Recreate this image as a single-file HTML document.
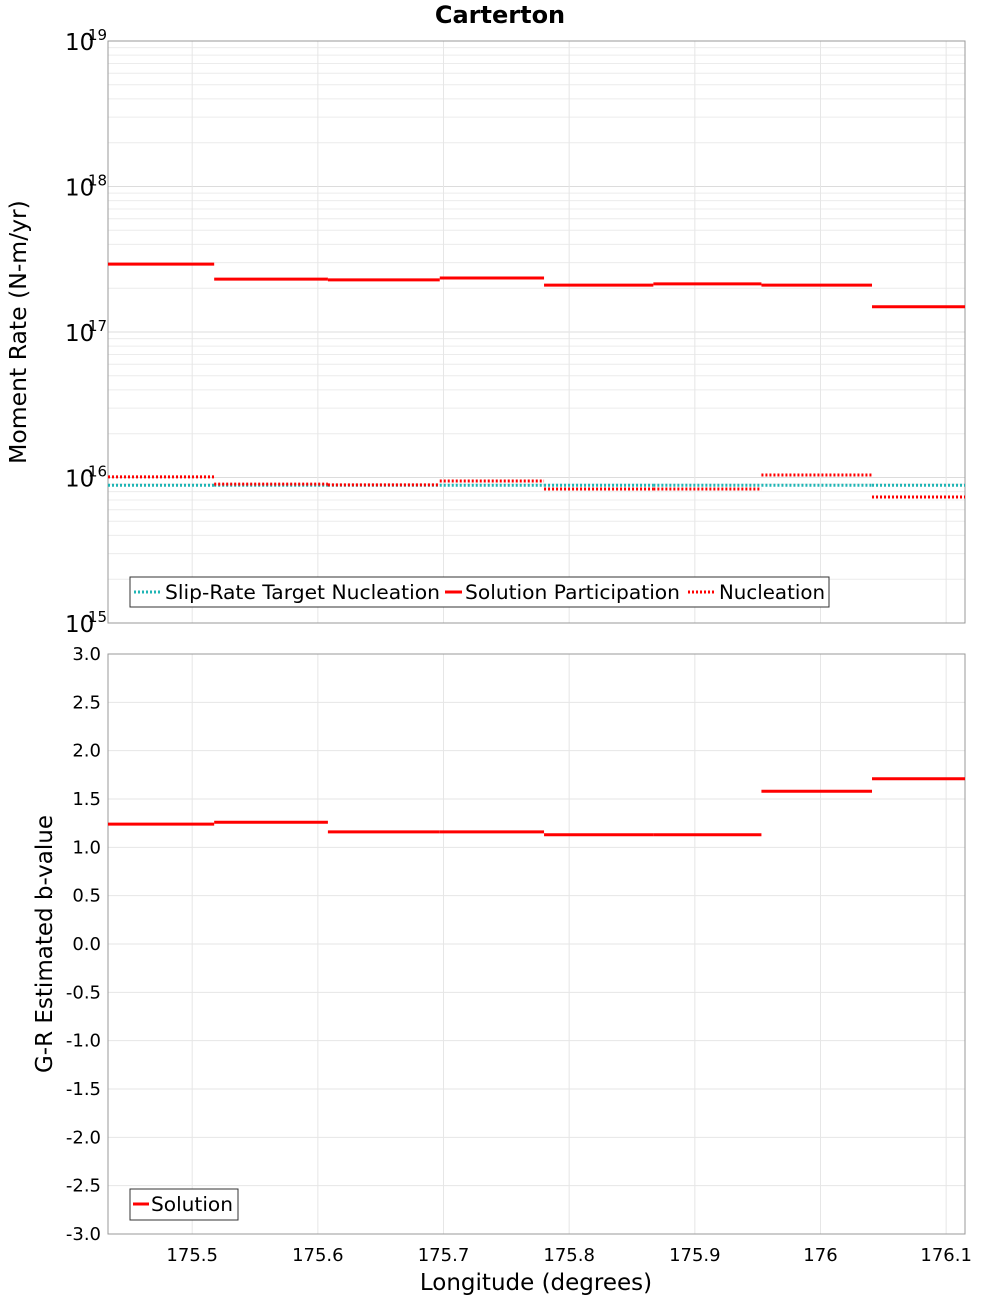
<!DOCTYPE html>
<html><head><meta charset="utf-8"><style>
body{margin:0;background:#fff;}
svg{display:block;font-family:"DejaVu Sans","Liberation Sans",sans-serif;}
</style></head><body>
<svg id="c" width="1000" height="1300"></svg>
<script>
const edges=[175.433,175.5175,175.608,175.697,175.780,175.867,175.953,176.041,176.115];
const participation=[2.93e17,2.31e17,2.28e17,2.35e17,2.10e17,2.14e17,2.10e17,1.49e17];
const nucleation=[1.01e16,9.0e15,8.9e15,9.46e15,8.33e15,8.33e15,1.04e16,7.35e15];
const target=[8.85e15,8.85e15,8.85e15,8.85e15,8.85e15,8.85e15,8.85e15,8.85e15];
const bvalues=[1.24,1.26,1.16,1.16,1.13,1.13,1.58,1.71];
const xTicks=[175.5,175.6,175.7,175.8,175.9,176,176.1];
const xTickLabels=["175.5","175.6","175.7","175.8","175.9","176","176.1"];
const yTopExp=[15,16,17,18,19];
const yBotTicks=[-3,-2.5,-2,-1.5,-1,-0.5,0,0.5,1,1.5,2,2.5,3];

const NS="http://www.w3.org/2000/svg";
const svg=document.getElementById('c');
const L=108,R=965,T1=41,B1=623,T2=654,B2=1234;
const xs=v=>L+(v-175.433)/(176.115-175.433)*(R-L);
const ylog=v=>T1+(19-Math.log10(v))/4*(B1-T1);
const yb=v=>T2+(3-v)/6*(B2-T2);
function el(tag,attrs,parent){const e=document.createElementNS(NS,tag);for(const k in attrs)e.setAttribute(k,attrs[k]);(parent||svg).appendChild(e);return e;}
function txt(s,attrs,parent){const e=el('text',attrs,parent);e.textContent=s;return e;}

const g1=el('g',{});
const g2=el('g',{});
for(let e=15;e<19;e++){for(let m=1;m<10;m++){const y=ylog(m*Math.pow(10,e));el('line',{x1:L,x2:R,y1:y,y2:y,stroke:m==1?'#dcdcdc':'#ececec','stroke-width':1},g1);}}
xTicks.forEach(t=>{const x=xs(t);el('line',{x1:x,x2:x,y1:T1,y2:B1,stroke:'#e6e6e6'},g1);el('line',{x1:x,x2:x,y1:T2,y2:B2,stroke:'#e6e6e6'},g2);});
yBotTicks.forEach(t=>{const y=yb(t);el('line',{x1:L,x2:R,y1:y,y2:y,stroke:'#e6e6e6'},g2);});
el('rect',{x:L,y:T1,width:R-L,height:B1-T1,fill:'none',stroke:'#999'},g1);
el('rect',{x:L,y:T2,width:R-L,height:B2-T2,fill:'none',stroke:'#999'},g2);

function steps(arr,yf,g,name,stroke,dash){
  arr.forEach((v,i)=>{const l=el('line',{x1:xs(edges[i]),x2:xs(edges[i+1]),y1:yf(v),y2:yf(v),stroke:stroke,'stroke-width':3},g);
  if(dash)l.setAttribute('stroke-dasharray',dash);
  
  });
}
steps(target,ylog,g1,'target-nucleation-segment','#1fb5b5','2,2');
steps(participation,ylog,g1,'participation-segment','#ff0000');
steps(nucleation,ylog,g1,'nucleation-segment','#ff0000','2,2');
steps(bvalues,yb,g2,'b-value-segment','#ff0000');

yTopExp.forEach(e=>{const y=ylog(Math.pow(10,e));
 const t=txt('10',{x:65,y:y+9,'font-size':23,fill:'#000'},g1);
 txt(String(e),{x:88,y:y-1,'font-size':15,fill:'#000'},g1);});
yBotTicks.forEach(t=>{const y=yb(t);const s=txt(t.toFixed(1),{x:101,y:y+6,'font-size':18,'text-anchor':'end',fill:'#000'},g2);});
xTicks.forEach((t,i)=>{const s=txt(xTickLabels[i],{x:xs(t),y:1261,'font-size':18,'text-anchor':'middle',fill:'#000'});});

const tt=txt('Carterton',{x:500,y:23,'font-size':24,'font-weight':'bold','text-anchor':'middle'});
const yt1=txt('Moment Rate (N-m/yr)',{x:0,y:0,'font-size':23.5,'text-anchor':'middle',transform:'translate(26,332) rotate(-90)'});
const yt2=txt('G-R Estimated b-value',{x:0,y:0,'font-size':23,'text-anchor':'middle',transform:'translate(52,944) rotate(-90)'});
const xt=txt('Longitude (degrees)',{x:536,y:1290,'font-size':23,'text-anchor':'middle'});

const lg1=el('g',{});
el('rect',{x:130,y:577,width:699,height:30,fill:'#fff',stroke:'#333'},lg1);
el('line',{x1:134,x2:160,y1:592,y2:592,stroke:'#1fb5b5','stroke-width':3,'stroke-dasharray':'2,2'},lg1);
txt('Slip-Rate Target Nucleation',{x:165,y:599,'font-size':19.5,textLength:275,lengthAdjust:'spacingAndGlyphs'},lg1);
el('line',{x1:445,x2:462,y1:592,y2:592,stroke:'#ff0000','stroke-width':3},lg1);
txt('Solution Participation',{x:465,y:599,'font-size':19.5,textLength:215,lengthAdjust:'spacingAndGlyphs'},lg1);
el('line',{x1:688,x2:716,y1:592,y2:592,stroke:'#ff0000','stroke-width':3,'stroke-dasharray':'2,2'},lg1);
txt('Nucleation',{x:719,y:599,'font-size':19.5,textLength:106,lengthAdjust:'spacingAndGlyphs'},lg1);
const lg2=el('g',{});
el('rect',{x:130,y:1189,width:108,height:31,fill:'#fff',stroke:'#333'},lg2);
el('line',{x1:133,x2:149,y1:1204,y2:1204,stroke:'#ff0000','stroke-width':3},lg2);
txt('Solution',{x:151,y:1211,'font-size':19.5,textLength:82,lengthAdjust:'spacingAndGlyphs'},lg2);
</script>
</body></html>
